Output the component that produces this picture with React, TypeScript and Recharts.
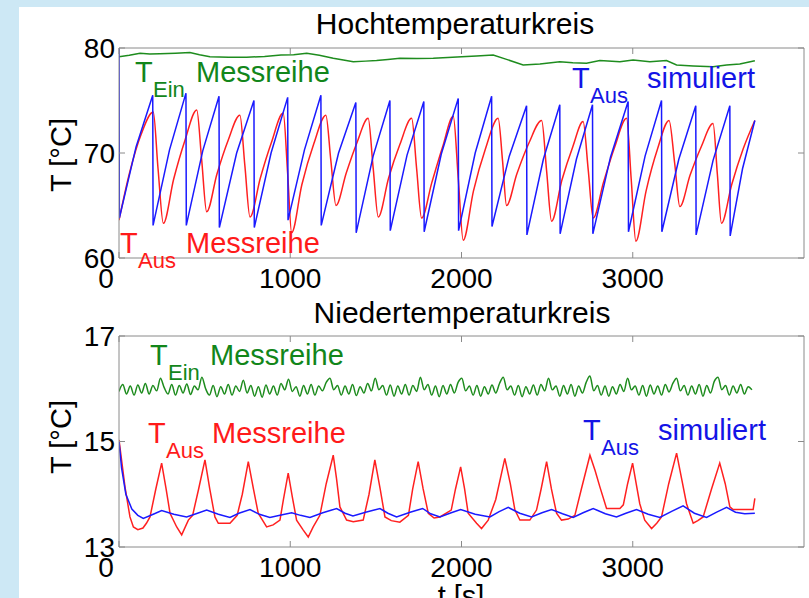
import React from 'react';
import { LineChart, Line, XAxis, YAxis } from 'recharts';

const FONT = '"Liberation Sans", Arial, sans-serif';
const BOX = '#8a8a8a';
const GREEN = '#1e8c1e';
const RED = '#ff2020';
const BLUE = '#1a1aff';

const X_TICKS = [0, 1000, 2000, 3000];
const HT_TICKS = [60, 70, 80];
const NT_TICKS = [13, 15, 17];

// Hochtemperaturkreis: [t in s, T in °C]
const htInletMeasured: [number, number][] = [
  [0, 79.17], [60, 79.3], [123, 79.49], [180, 79.43], [239, 79.45], [330, 79.5], [414, 79.56],
  [470, 79.35], [531, 79.17], [640, 79.12], [745, 79.11], [850, 79.2], [946, 79.33], [1020, 79.35],
  [1096, 79.49], [1170, 79.3], [1251, 79.02], [1310, 78.85], [1368, 78.7], [1440, 78.75], [1504, 78.8],
  [1570, 78.9], [1640, 79.02], [1740, 79.0], [1835, 79.02], [1920, 79.1], [2001, 79.17], [2088, 79.24],
  [2185, 79.33], [2263, 78.92], [2360, 78.38], [2458, 78.48], [2574, 78.7], [2650, 78.6], [2730, 78.54],
  [2808, 78.8], [2925, 78.7], [3002, 78.86], [3100, 78.7], [3197, 78.8], [3256, 78.38], [3353, 78.29],
  [3469, 78.22], [3548, 78.38], [3625, 78.48], [3713, 78.79],
];

const htOutletMeasured: [number, number][] = [
  [0, 63.6], [60, 68.0], [130, 71.8], [200, 73.9], [228, 68.5], [259, 63.3],
  [319, 67.5], [385, 71.2], [454, 74.1], [482, 69.5], [512, 64.4],
  [572, 68.0], [637, 71.2], [706, 73.6], [735, 68.8], [765, 63.9],
  [825, 67.6], [890, 71.0], [959, 73.8], [985, 68.0], [1008, 62.4],
  [1068, 67.0], [1138, 70.9], [1208, 73.6], [1237, 69.3], [1267, 65.0],
  [1327, 68.1], [1390, 71.0], [1455, 73.3], [1484, 68.6], [1514, 63.9],
  [1574, 67.6], [1640, 70.8], [1709, 73.3], [1738, 68.5], [1767, 63.8],
  [1827, 67.2], [1890, 70.6], [1952, 73.5], [1981, 67.6], [2010, 61.7],
  [2070, 66.4], [2140, 70.4], [2214, 73.3], [2240, 69.2], [2263, 65.0],
  [2323, 68.0], [2395, 71.0], [2468, 73.1], [2497, 68.3], [2526, 63.5],
  [2586, 67.4], [2650, 70.6], [2710, 73.0], [2740, 68.4], [2769, 63.8],
  [2829, 67.2], [2895, 70.6], [2964, 73.3], [2991, 67.5], [3018, 61.6],
  [3078, 66.4], [3145, 70.4], [3212, 73.1], [3245, 69.0], [3275, 64.9],
  [3335, 67.9], [3400, 70.6], [3469, 72.8], [3494, 68.0], [3518, 63.3],
  [3578, 67.0], [3645, 70.4], [3713, 73.1],
];

const htOutletSimulated: [number, number][] = [
  [0, 80.0], [2, 63.8], [100, 70.6], [197, 75.5],
  [199, 63.1], [295, 70.3], [391, 75.7],
  [393, 63.1], [489, 70.2], [584, 75.4],
  [586, 62.9], [687, 70.0], [788, 75.0],
  [790, 62.9], [888, 70.0], [985, 75.3],
  [987, 63.6], [1083, 70.3], [1179, 75.5],
  [1181, 63.1], [1282, 70.0], [1383, 74.8],
  [1385, 62.4], [1484, 69.7], [1582, 75.0],
  [1584, 62.6], [1682, 69.8], [1780, 74.9],
  [1782, 62.5], [1882, 69.9], [1981, 75.2],
  [1983, 62.6], [2080, 70.0], [2176, 75.4],
  [2178, 63.0], [2279, 69.7], [2380, 74.5],
  [2382, 62.2], [2478, 69.4], [2574, 74.6],
  [2576, 62.3], [2671, 69.4], [2765, 74.6],
  [2767, 62.3], [2870, 69.6], [2973, 74.9],
  [2975, 62.5], [3072, 69.7], [3168, 75.0],
  [3170, 62.5], [3269, 69.4], [3368, 74.5],
  [3370, 62.2], [3469, 69.3], [3567, 74.5],
  [3569, 62.1], [3641, 68.5], [3713, 73.1],
];

// Niedertemperaturkreis
const NT_INLET_STEP = 22; // s between readings
const ntInletMeasured = [
  15.95, 16.08, 15.9, 16.05, 15.88, 16.07, 15.92, 16.1, 15.9, 16.06,
  15.96, 16.2, 16.02, 15.9, 16.08, 15.88, 16.06, 15.92, 16.09, 15.89,
  16.05, 15.98, 16.22, 16.0, 15.88, 16.06, 15.85, 16.04, 15.9, 16.08,
  15.88, 16.05, 15.95, 16.16, 15.92, 16.06, 15.86, 16.04, 15.84, 16.07,
  15.9, 16.05, 15.88, 16.1, 15.98, 16.18, 15.95, 16.04, 15.86, 16.06,
  15.9, 16.08, 15.88, 16.05, 15.96, 16.12, 16.2, 15.98, 16.06, 15.88,
  16.05, 15.9, 16.08, 15.87, 16.04, 15.92, 16.1, 15.96, 16.2, 15.98,
  16.06, 15.88, 16.07, 15.86, 16.05, 15.9, 16.08, 15.88, 16.06, 15.95,
  16.22, 15.98, 16.08, 15.88, 16.05, 15.85, 16.06, 15.9, 16.08, 15.92,
  16.12, 16.2, 15.96, 16.05, 15.88, 16.06, 15.86, 16.04, 15.9, 16.07,
  15.92, 16.1, 16.22, 15.98, 16.05, 15.88, 16.06, 15.85, 16.04, 15.9,
  16.07, 15.88, 16.08, 15.96, 16.2, 15.98, 16.05, 15.86, 16.06, 15.9,
  16.08, 15.86, 16.05, 15.92, 16.12, 16.24, 15.96, 16.06, 15.88, 16.05,
  15.86, 16.04, 15.9, 16.08, 15.95, 16.2, 15.98, 16.05, 15.88, 16.06,
  15.86, 16.07, 15.9, 16.05, 15.88, 16.08, 15.94, 16.1, 16.2, 15.96,
  16.06, 15.88, 16.05, 15.9, 16.08, 15.86, 16.06, 15.92, 16.14, 16.22,
  15.98, 16.06, 15.88, 16.05, 15.92, 16.08, 15.9, 16.04, 15.98,
];

const ntOutletMeasured: [number, number][] = [
  [0, 15.03], [35, 14.14], [64, 13.57], [84, 13.38], [110, 13.33], [140, 13.36], [160, 13.45],
  [181, 13.57], [215, 14.1], [249, 14.59], [275, 14.1], [298, 13.64], [337, 13.38], [366, 13.23],
  [405, 13.51], [430, 13.6], [465, 14.1], [502, 14.65], [530, 14.1], [560, 13.57], [580, 13.45],
  [648, 13.45], [690, 13.6], [720, 14.0], [755, 14.62], [785, 14.1], [813, 13.64], [862, 13.38],
  [900, 13.42], [940, 13.51], [960, 13.9], [988, 14.4], [1012, 13.95], [1037, 13.51], [1076, 13.32],
  [1105, 13.19], [1134, 13.38], [1173, 13.6], [1210, 14.2], [1251, 14.74], [1270, 14.3], [1290, 13.76],
  [1329, 13.51], [1368, 13.48], [1426, 13.51], [1460, 14.0], [1494, 14.65], [1525, 14.1], [1553, 13.57],
  [1590, 13.5], [1640, 13.47], [1690, 13.6], [1715, 14.1], [1747, 14.62], [1776, 14.1], [1806, 13.64],
  [1840, 13.55], [1874, 13.57], [1940, 13.7], [1965, 14.1], [1995, 14.52], [2018, 14.1], [2039, 13.64],
  [2088, 13.45], [2117, 13.35], [2156, 13.51], [2200, 13.9], [2253, 14.68], [2285, 14.2], [2312, 13.7],
  [2341, 13.51], [2399, 13.51], [2438, 13.7], [2465, 14.1], [2497, 14.62], [2525, 14.1], [2555, 13.64],
  [2584, 13.51], [2623, 13.53], [2662, 13.6], [2700, 14.1], [2750, 14.74], [2780, 14.45], [2808, 14.14],
  [2847, 13.73], [2925, 13.73], [2945, 13.8], [2970, 14.2], [2999, 14.59], [3020, 14.2], [3041, 13.82],
  [3070, 13.51], [3110, 13.35], [3140, 13.45], [3168, 13.57], [3210, 14.2], [3256, 14.78], [3285, 14.3],
  [3314, 13.82], [3353, 13.45], [3380, 13.5], [3411, 13.57], [3460, 14.1], [3508, 14.59], [3540, 14.2],
  [3567, 13.76], [3586, 13.71], [3703, 13.71], [3713, 13.92],
];

const ntOutletSimulated: [number, number][] = [
  [0, 15.0], [15, 14.5], [40, 14.0], [75, 13.72], [110, 13.6], [142, 13.54], [200, 13.62], [249, 13.69],
  [320, 13.62], [395, 13.57], [450, 13.63], [512, 13.7], [580, 13.62], [648, 13.56], [700, 13.64],
  [765, 13.71], [820, 13.62], [881, 13.56], [940, 13.6], [1008, 13.65], [1060, 13.6], [1115, 13.56],
  [1190, 13.65], [1271, 13.73], [1320, 13.64], [1366, 13.59], [1440, 13.66], [1524, 13.73], [1570, 13.64],
  [1621, 13.57], [1700, 13.66], [1773, 13.73], [1820, 13.63], [1874, 13.57], [1940, 13.65], [1995, 13.71],
  [2080, 13.62], [2166, 13.57], [2220, 13.67], [2273, 13.75], [2340, 13.64], [2409, 13.57], [2470, 13.65],
  [2526, 13.71], [2590, 13.63], [2652, 13.56], [2710, 13.65], [2769, 13.73], [2840, 13.63], [2905, 13.57],
  [2960, 13.64], [3022, 13.71], [3090, 13.62], [3158, 13.56], [3230, 13.68], [3294, 13.78], [3360, 13.64],
  [3431, 13.56], [3490, 13.66], [3548, 13.75], [3600, 13.66], [3654, 13.63], [3713, 13.64],
];

const toPoints = (pairs: [number, number][]) => pairs.map(([t, T]) => ({ t, T }));

const XTick = (props: any) => {
  const { x, y, payload } = props;
  const shift = payload.value === 0 ? -13 : 0;
  return (
    <text x={x + shift} y={y} dy={20} textAnchor="middle" fontSize={28} fontFamily={FONT} fill="#000">
      {payload.value}
    </text>
  );
};

const NoTick = () => <g />;

type Series = { name: string; data: { t: number; T: number }[]; color: string; type: 'linear' | 'monotone' };

// plot box spans x 119..804; the frame axes get 1px width so recharts still draws them
const Panel = ({ top, height, marginTop, marginBottom, yDomain, yTicks, series }: {
  top: number; height: number; marginTop: number; marginBottom: number;
  yDomain: [number, number]; yTicks: number[]; series: Series[];
}) => (
  <div style={{ position: 'absolute', left: 0, top }}>
    <LineChart width={809} height={height} margin={{ top: marginTop - 1, right: 4, bottom: marginBottom, left: 118 }}>
      <XAxis xAxisId="b" type="number" dataKey="t" domain={[0, 4000]} ticks={X_TICKS} interval={0}
        allowDataOverflow height={40} tickSize={-6} tickMargin={16} stroke={BOX} tick={<XTick />} />
      <XAxis xAxisId="top" orientation="top" type="number" dataKey="t" domain={[0, 4000]} ticks={X_TICKS}
        interval={0} allowDataOverflow height={1} tickSize={-6} stroke={BOX} tick={NoTick} />
      <YAxis yAxisId="l" type="number" domain={yDomain} ticks={yTicks} interval={0} allowDataOverflow
        width={1} tickSize={-6} tickMargin={10} stroke={BOX}
        tick={{ fontSize: 28, fill: '#000', fontFamily: FONT }} />
      <YAxis yAxisId="r" orientation="right" type="number" domain={yDomain} ticks={yTicks} interval={0}
        allowDataOverflow width={1} tickSize={-6} stroke={BOX} tick={NoTick} />
      {series.map((s) => (
        <Line key={s.name} xAxisId="b" yAxisId="l" data={s.data} dataKey="T" name={s.name} type={s.type}
          stroke={s.color} strokeWidth={1.5} dot={false} isAnimationActive={false} />
      ))}
    </LineChart>
  </div>
);

const Sub = ({ x, y, main, sub, rest, restX, color }: {
  x: number; y: number; main: string; sub: string; rest: string; restX: number; color: string;
}) => (
  <g fill={color} fontFamily={FONT}>
    <text x={x} y={y} fontSize={29}>{main}</text>
    <text x={x + 18} y={y + 15} fontSize={22}>{sub}</text>
    <text x={restX} y={y} fontSize={29}>{rest}</text>
  </g>
);

export default function App() {
  const htSeries: Series[] = [
    { name: 'T_Ein Messreihe', data: toPoints(htInletMeasured), color: GREEN, type: 'linear' },
    { name: 'T_Aus Messreihe', data: toPoints(htOutletMeasured), color: RED, type: 'monotone' },
    { name: 'T_Aus simuliert', data: toPoints(htOutletSimulated), color: BLUE, type: 'linear' },
  ];
  const ntSeries: Series[] = [
    { name: 'T_Ein Messreihe', data: ntInletMeasured.map((T, i) => ({ t: i * NT_INLET_STEP, T })), color: GREEN, type: 'monotone' },
    { name: 'T_Aus Messreihe', data: toPoints(ntOutletMeasured), color: RED, type: 'linear' },
    { name: 'T_Aus simuliert', data: toPoints(ntOutletSimulated), color: BLUE, type: 'linear' },
  ];

  return (
    <div style={{ position: 'absolute', left: 0, top: 0, width: 809, height: 598, overflow: 'hidden', background: '#cde8f5', fontFamily: FONT }}>
      <div style={{ position: 'absolute', left: 19, top: 7, width: 790, height: 591, background: '#fff' }} />
      <Panel top={0} height={300} marginTop={48} marginBottom={2} yDomain={[60, 80]} yTicks={HT_TICKS} series={htSeries} />
      <Panel top={290} height={308} marginTop={46} marginBottom={11} yDomain={[13, 17]} yTicks={NT_TICKS} series={ntSeries} />
      <svg width={809} height={598} style={{ position: 'absolute', left: 0, top: 0, pointerEvents: 'none' }}>
        <g fontFamily={FONT} fill="#000">
          <text x={455} y={34} fontSize={30} textAnchor="middle">Hochtemperaturkreis</text>
          <text x={462} y={323} fontSize={30} textAnchor="middle">Niedertemperaturkreis</text>
          <text transform="translate(71,155) rotate(-90)" fontSize={29} textAnchor="middle">T [°C]</text>
          <text transform="translate(71,437) rotate(-90)" fontSize={29} textAnchor="middle">T [°C]</text>
          <text x={461} y={606} fontSize={29} textAnchor="middle">t [s]</text>
        </g>
        <Sub x={135} y={82} main="T" sub="Ein" rest="Messreihe" restX={196} color="#12861a" />
        <Sub x={120} y={253} main="T" sub="Aus" rest="Messreihe" restX={186} color="#ff1a1a" />
        <Sub x={572} y={88} main="T" sub="Aus" rest="simuliert" restX={647} color="#1414e6" />
        <Sub x={150} y={365} main="T" sub="Ein" rest="Messreihe" restX={210} color="#12861a" />
        <Sub x={148} y={443} main="T" sub="Aus" rest="Messreihe" restX={212} color="#ff1a1a" />
        <Sub x={583} y={440} main="T" sub="Aus" rest="simuliert" restX={658} color="#1414e6" />
      </svg>
    </div>
  );
}
